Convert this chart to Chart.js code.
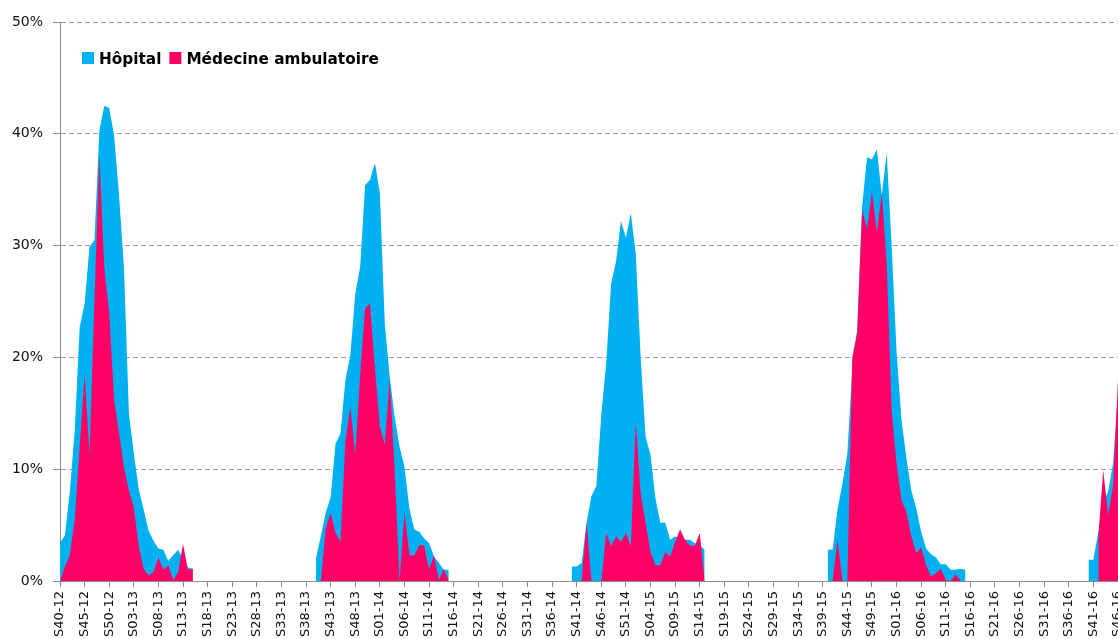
<!DOCTYPE html>
<html>
<head>
<meta charset="utf-8">
<title>Hôpital / Médecine ambulatoire</title>
<script src="https://cdn.jsdelivr.net/npm/chart.js@4.4.1/dist/chart.umd.min.js"></script>
<style>
  html, body { margin: 0; padding: 0; background: #fff; overflow: hidden; }
</style>
</head>
<body>
<canvas id="myChart" width="1118" height="639"></canvas>
<script>
// weeks in each year (2015 has 53)
var yearWeeks = { 12: 52, 13: 52, 14: 52, 15: 53, 16: 52 }

// week labels from S40-12 to S46-16
var weekLabels = []
var yr = 12, wk = 40
while (!(yr === 16 && wk > 46)) {
    weekLabels.push('S' + (wk < 10 ? '0' + wk : wk) + '-' + yr)
    wk++
    if (wk > yearWeeks[yr]) { wk = 1; yr++ }
}

// each season starts at week 40
var seasonStart = ['S40-12', 'S40-13', 'S40-14', 'S40-15', 'S40-16']

// Hôpital (%)
var hopital1213 = [3.4, 4.1, 8, 13.5, 22.7, 24.8, 29.9, 30.5, 40.3, 42.5, 42.3, 39.8, 34.5, 28,
                   15, 11.4, 8.2, 6.4, 4.5, 3.6, 2.9, 2.8, 1.8, 2.3, 2.8, 2.0, 1.2, 1.1]
var hopital1314 = [2.0, 4.0, 6.1, 7.5, 12.3, 13.2, 18.0, 20.2, 25.7, 28.1, 35.4, 35.9, 37.4, 34.7,
                   23.0, 18.3, 14.7, 12.0, 10.2, 6.5, 4.6, 4.4, 3.8, 3.4, 2.2, 1.6, 1.0, 1.0]
var hopital1415 = [1.3, 1.3, 1.6, 5.2, 7.6, 8.5, 14.9, 19.5, 26.6, 28.6, 32.2, 30.7, 32.9, 29.3,
                   20, 12.9, 11.3, 7.4, 5.2, 5.2, 3.7, 4.0, 3.7, 3.7, 3.7, 3.4, 3.2, 2.8]
var hopital1516 = [2.8, 2.8, 6.4, 8.7, 11.4, 19, 22.5, 33.5, 37.9, 37.7, 38.6, 34.5, 38.3, 30,
                   20.5, 14.4, 11.0, 8.1, 6.5, 4.4, 2.9, 2.4, 2.1, 1.5, 1.5, 1.0, 1.0, 1.1, 1.0]
var hopital1617 = [1.9, 1.9, 4.4, 7, 8, 10.5, 17]

// Médecine ambulatoire (%)
var ambu1213 = [0, 1.3, 2.3, 5.5, 12, 18.5, 11.3, 25, 38, 28, 24, 16.2, 13.2, 10.2,
                8.1, 6.6, 3.1, 1.1, 0.5, 0.8, 2.1, 1.0, 1.4, 0.1, 0.8, 3.3, 1.0, 1.1]
var ambu1314 = [0, 0, 4.7, 6.1, 4.3, 3.5, 12.5, 15.6, 11.3, 18.5, 24.4, 24.8, 19, 13.8,
                12.2, 18.0, 10, 0, 6.2, 2.3, 2.3, 3.2, 3.2, 1.0, 2.3, 0.1, 1.1, 0]
var ambu1415 = [0, 0, 0, 5.2, 0, 0, 0, 4.3, 3.1, 4.0, 3.5, 4.3, 3.1, 14.3,
                7.8, 5.2, 2.6, 1.4, 1.4, 2.6, 2.2, 3.5, 4.6, 3.7, 3.2, 3.1, 4.3, 0]
var ambu1516 = [0, 0, 3.7, 0, 0, 20, 22.2, 33.2, 31.5, 34.8, 31.2, 34.7, 28.4, 15.3,
                10.5, 7.2, 6.2, 4.0, 2.5, 3.0, 1.4, 0.4, 0.7, 1.1, 0.1, 0, 0.6, 0, 0]
var ambu1617 = [null, null, 4, 9.9, 5.9, 8.5, 18]

// put the season arrays on the week axis, gaps stay empty
function onWeeks(seasons) {
    var out = weekLabels.map(function () { return null })
    seasons.forEach(function (vals, s) {
        var k = weekLabels.indexOf(seasonStart[s])
        vals.forEach(function (v, j) { out[k + j] = v })
    })
    return out
}

var hopital = onWeeks([hopital1213, hopital1314, hopital1415, hopital1516, hopital1617])
var ambulatoire = onWeeks([ambu1213, ambu1314, ambu1415, ambu1516, ambu1617])

// legend drawn inside the plot, top left
var insideLegend = {
    id: 'insideLegend',
    afterDatasetsDraw: function (chart) {
        var ctx = chart.ctx, area = chart.chartArea
        var x = area.left + 22, top = area.top + 30
        ctx.save()
        ctx.font = 'bold 15.3px "DejaVu Sans"'
        ctx.textBaseline = 'alphabetic'
        chart.data.datasets.forEach(function (ds) {
            ctx.fillStyle = ds.backgroundColor
            ctx.fillRect(x, top, 12, 12)
            x += 17
            ctx.fillStyle = '#000'
            ctx.fillText(ds.label, x, top + 11.5)
            x += ctx.measureText(ds.label).width + 8
        })
        ctx.restore()
    }
}

var axisGrey = '#8c8c8c'

var ctx = document.getElementById('myChart').getContext('2d')
var myChart = new Chart(ctx, {
    type: 'line',
    data: {
        labels: weekLabels,
        datasets: [
            {
                label: 'Hôpital',
                data: hopital,
                backgroundColor: '#00B0F0',
                borderColor: 'rgba(0,0,0,0)',
                borderWidth: 0,
                fill: 'origin',
                pointRadius: 0,
                tension: 0,
                order: 2
            },
            {
                label: 'Médecine ambulatoire',
                data: ambulatoire,
                backgroundColor: '#FF0066',
                borderColor: 'rgba(0,0,0,0)',
                borderWidth: 0,
                fill: 'origin',
                pointRadius: 0,
                tension: 0,
                order: 1
            }
        ]
    },
    options: {
        responsive: false,
        animation: false,
        devicePixelRatio: 1,
        layout: { padding: { top: 22, left: 0, right: 0, bottom: 0 } },
        plugins: {
            legend: { display: false },
            tooltip: { enabled: false }
        },
        scales: {
            x: {
                grid: { drawOnChartArea: false, tickLength: 6, color: axisGrey, tickColor: axisGrey },
                border: { color: axisGrey },
                ticks: {
                    autoSkip: false,
                    maxRotation: 90,
                    minRotation: 90,
                    padding: 4,
                    color: '#111',
                    font: { family: 'DejaVu Sans', size: 13 }
                },
                afterBuildTicks: function (scale) {
                    scale.ticks = scale.ticks.filter(function (t) { return t.value % 5 === 0 })
                },
                afterFit: function (scale) {
                    scale.height = 58
                    scale.paddingLeft = 0
                    scale.paddingRight = 0
                }
            },
            y: {
                min: 0,
                max: 50,
                grid: { color: '#a0a0a0', tickColor: axisGrey, tickLength: 7, tickBorderDash: [] },
                border: { color: axisGrey, dash: [5, 3] },
                ticks: {
                    stepSize: 10,
                    padding: 10,
                    color: '#111',
                    font: { family: 'DejaVu Sans', size: 14 },
                    callback: function (v) { return v + '%' }
                },
                afterFit: function (scale) {
                    scale.width = 60
                    scale.paddingTop = 0
                    scale.paddingBottom = 0
                }
            }
        }
    },
    plugins: [insideLegend]
})
</script>
</body>
</html>
